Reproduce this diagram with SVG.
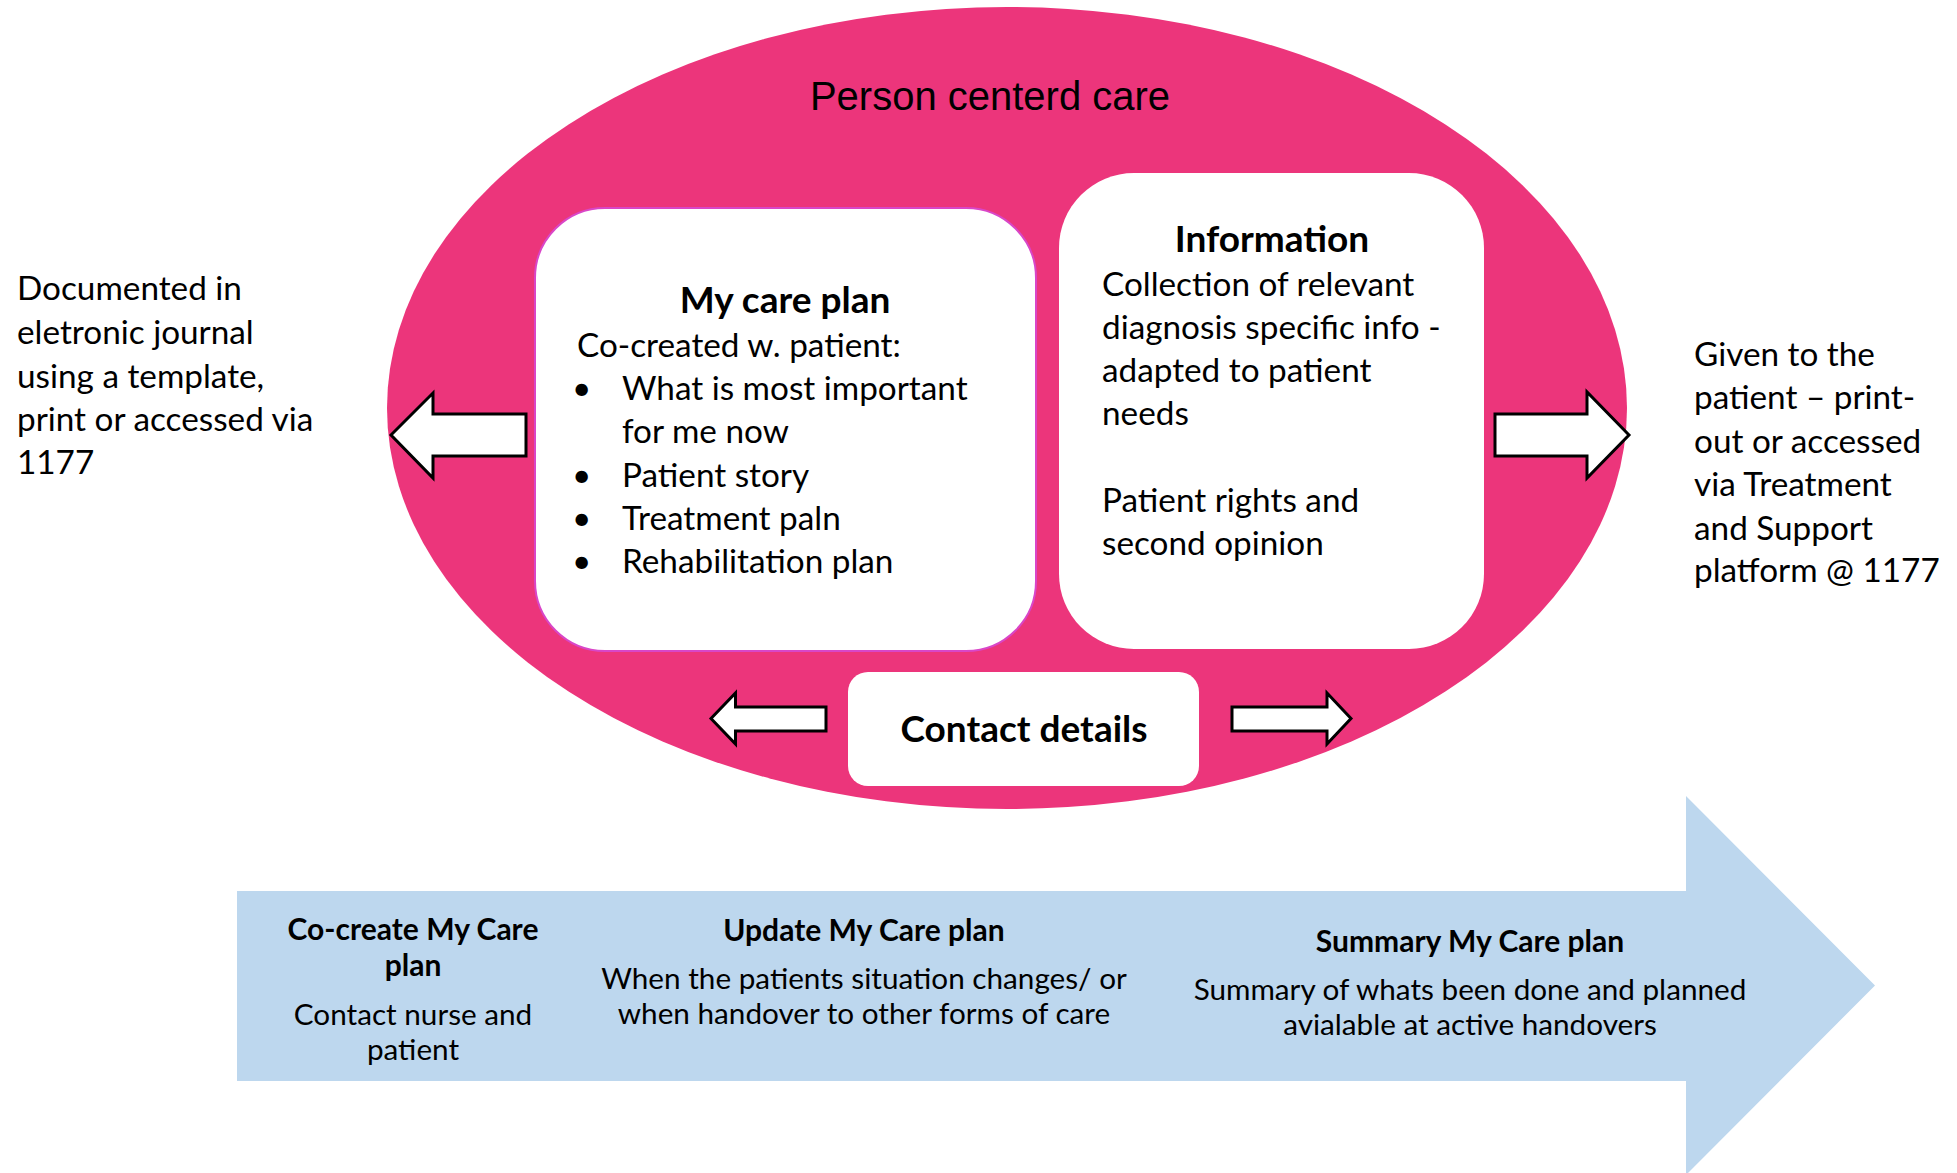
<svg xmlns="http://www.w3.org/2000/svg" width="1957" height="1173" viewBox="0 0 1957 1173">
  <style>
    .cal { font-family: Lato, "Open Sans", sans-serif; fill: #000; }
    .body { font-size: 33.3px; }
    .title { font-size: 37px; font-weight: bold; }
    .small { font-size: 29.7px; }
    .smallb { font-size: 30px; font-weight: bold; }
    .mid { text-anchor: middle; }
    .arrow { fill: #fff; stroke: #000; stroke-width: 3; stroke-linejoin: miter; }
    .box { fill: #fff; }
  </style>
  <rect width="1957" height="1173" fill="#fff"/>

  <g id="timeline">
    <polygon points="237,891 1686,891 1686,796 1875,985.5 1686,1175 1686,1081 237,1081" fill="#BDD7EE"/>
  </g>

  <g id="person-centred-care">
    <ellipse cx="1007" cy="408" rx="620" ry="401" fill="#EC357B"/>
    <text x="990" y="110" font-family="'Liberation Sans', Arial, sans-serif" font-size="40" text-anchor="middle">Person centerd care</text>
  </g>

  <g id="my-care-plan">
    <rect class="box" x="535" y="208" width="501" height="443" rx="70" ry="70" stroke="#D946C8" stroke-width="2"/>
    <text class="cal title mid" x="785" y="313">My care plan</text>
    <text class="cal body" x="577" y="357">Co-created w. patient:</text>
    <g class="cal body">
      <text x="572" y="400">•</text><text x="622" y="400">What is most important</text>
      <text x="622" y="443">for me now</text>
      <text x="572" y="487">•</text><text x="622" y="487">Patient story</text>
      <text x="572" y="530">•</text><text x="622" y="530">Treatment paln</text>
      <text x="572" y="573">•</text><text x="622" y="573">Rehabilitation plan</text>
    </g>
  </g>

  <g id="information">
    <rect class="box" x="1059" y="173" width="425" height="476" rx="75" ry="75"/>
    <text class="cal title mid" x="1272" y="252">Information</text>
    <g class="cal body">
      <text x="1102" y="296">Collection of relevant</text>
      <text x="1102" y="339">diagnosis specific info -</text>
      <text x="1102" y="382">adapted to patient</text>
      <text x="1102" y="425">needs</text>
      <text x="1102" y="512">Patient rights and</text>
      <text x="1102" y="555">second opinion</text>
    </g>
  </g>

  <g id="contact-details">
    <rect class="box" x="848" y="672" width="351" height="114" rx="20" ry="20"/>
    <text class="cal title mid" x="1024" y="742">Contact details</text>
  </g>

  <g id="documented">
    <g class="cal body">
      <text x="17" y="300">Documented in</text>
      <text x="17" y="344">eletronic journal</text>
      <text x="17" y="388">using a template,</text>
      <text x="17" y="431">print or accessed via</text>
      <text x="17" y="474">1177</text>
    </g>
  </g>

  <g id="given-to-patient">
    <g class="cal body">
      <text x="1694" y="366">Given to the</text>
      <text x="1694" y="409">patient – print-</text>
      <text x="1694" y="453">out or accessed</text>
      <text x="1694" y="496">via Treatment</text>
      <text x="1694" y="540">and Support</text>
      <text x="1694" y="582">platform @ 1177</text>
    </g>
  </g>

  <g id="step-cocreate">
    <text class="cal smallb mid" x="413" y="940">Co-create My Care</text>
    <text class="cal smallb mid" x="413" y="976">plan</text>
    <text class="cal small mid" x="413" y="1025">Contact nurse and</text>
    <text class="cal small mid" x="413" y="1060">patient</text>
  </g>

  <g id="step-update">
    <text class="cal smallb mid" x="864" y="941">Update My Care plan</text>
    <text class="cal small mid" x="864" y="989">When the patients situation changes/ or</text>
    <text class="cal small mid" x="864" y="1024">when handover to other forms of care</text>
  </g>

  <g id="step-summary">
    <text class="cal smallb mid" x="1470" y="952">Summary My Care plan</text>
    <text class="cal small mid" x="1470" y="1000">Summary of whats been done and planned</text>
    <text class="cal small mid" x="1470" y="1035">avialable at active handovers</text>
  </g>

  <g id="connectors">
    <polygon class="arrow" points="391,435 433,393 433,414 526,414 526,456 433,456 433,478"/>
    <polygon class="arrow" points="1629,435 1587,392 1587,414 1495,414 1495,456 1587,456 1587,478"/>
    <polygon class="arrow" points="711,718.5 735.5,693 735.5,707 826,707 826,731 735.5,731 735.5,744"/>
    <polygon class="arrow" points="1351,718.5 1327,693 1327,707 1232,707 1232,731 1327,731 1327,744"/>
  </g>
</svg>
